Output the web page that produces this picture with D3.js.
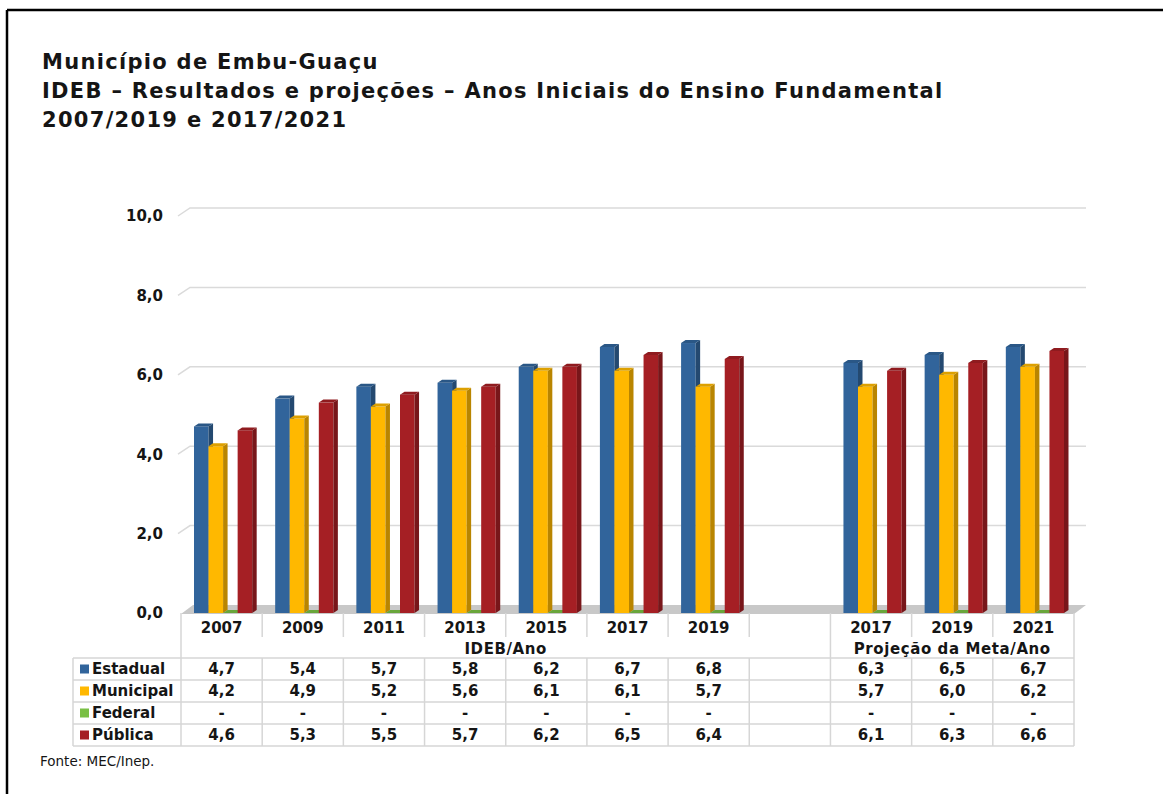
<!DOCTYPE html>
<html>
<head>
<meta charset="utf-8">
<title>IDEB Embu-Guaçu</title>
<script src="https://cdn.jsdelivr.net/npm/d3@7"></script>
<style>
body { margin: 0; background: #fff; }
svg text { font-family: "DejaVu Sans", Verdana, sans-serif; fill: #151515; }
.b { font-weight: bold; }
.grid { stroke: #dadada; stroke-width: 1.5; fill: none; }
.tbl { stroke: #d6d6d6; stroke-width: 1.5; }
</style>
</head>
<body>
<svg id="chart" width="1163" height="794"></svg>
<script>
// dados (IDEB 2007-2019 e projeções 2017-2021)
var idebAnos = ["2007", "2009", "2011", "2013", "2015", "2017", "2019"];
var metaAnos = ["2017", "2019", "2021"];
var series = ["Estadual", "Municipal", "Federal", "Pública"];
var estadual  = [4.7, 5.4, 5.7, 5.8, 6.2, 6.7, 6.8, 6.3, 6.5, 6.7];
var municipal = [4.2, 4.9, 5.2, 5.6, 6.1, 6.1, 5.7, 5.7, 6.0, 6.2];
var federal   = [null, null, null, null, null, null, null, null, null, null];
var publica   = [4.6, 5.3, 5.5, 5.7, 6.2, 6.5, 6.4, 6.1, 6.3, 6.6];
var yTicks = [0, 2, 4, 6, 8, 10];
var titulo = ["Município de Embu-Guaçu",
  "IDEB – Resultados e projeções – Anos Iniciais do Ensino Fundamental",
  "2007/2019 e 2017/2021"];
var grupos = ["IDEB/Ano", "Projeção da Meta/Ano"];
var fonte = "Fonte: MEC/Inep.";

var cores = {"Estadual": "#31649b", "Municipal": "#ffb800", "Federal": "#79bf44", "Pública": "#a51f24"};
var valores = {"Estadual": estadual, "Municipal": municipal, "Federal": federal, "Pública": publica};

var svg = d3.select("#chart");
var fmt = function(v) { return v == null ? "-" : d3.format(".1f")(v).replace(".", ","); };

// colunas: anos IDEB, uma coluna vazia, anos de meta
var cols = idebAnos.map(function(a) { return "i" + a; })
  .concat(["gap"])
  .concat(metaAnos.map(function(a) { return "m" + a; }));
var colOf = function(i) { return cols[i < idebAnos.length ? i : i + 1]; };
var labelOf = function(c) { return c === "gap" ? "" : c.slice(1); };

var x = d3.scaleBand().domain(cols).range([181, 1074]);
var y = d3.scaleLinear().domain([0, 10]).range([613, 216]);
var sub = d3.scaleBand().domain(series).range([13, x.bandwidth() - 10]);
var pdx = 12, pdy = -8;   // profundidade do plano de fundo
var bdx = 4.5, bdy = -3;  // profundidade das barras

// moldura
svg.append("line").attr("x1", 7).attr("x2", 1163).attr("y1", 10).attr("y2", 10)
  .attr("stroke", "#000").attr("stroke-width", 2.5);
svg.append("line").attr("x1", 7).attr("x2", 7).attr("y1", 10).attr("y2", 794)
  .attr("stroke", "#000").attr("stroke-width", 2.5);

// título
svg.append("g").selectAll("text").data(titulo).join("text")
  .attr("class", "b")
  .attr("x", 42).attr("y", function(d, i) { return 69 + i * 29; })
  .attr("font-size", 21).attr("letter-spacing", 1.3)
  .text(function(d) { return d; });

// grade
var x0 = x.range()[0], x1 = x.range()[1];
svg.append("g").selectAll("path").data(yTicks.filter(function(t) { return t > 0; })).join("path")
  .attr("class", "grid")
  .attr("d", function(t) {
    return "M" + (x0 - 3) + "," + y(t) + "L" + (x0 + pdx - 3) + "," + (y(t) + pdy) +
      "L" + (x1 + pdx) + "," + (y(t) + pdy);
  });

// piso
svg.append("path")
  .attr("d", "M" + x0 + "," + (y(0) + 1) + "L" + x1 + "," + (y(0) + 1) +
    "L" + (x1 + pdx) + "," + (y(0) + pdy) + "L" + (x0 + pdx) + "," + (y(0) + pdy) + "Z")
  .attr("fill", "#c8c8c8");

// eixo y
svg.append("g").selectAll("text").data(yTicks).join("text")
  .attr("class", "b")
  .attr("x", 163).attr("y", y).attr("dy", "0.36em")
  .attr("text-anchor", "end").attr("font-size", 15)
  .text(fmt);

// barras 3D
var barras = [];
estadual.forEach(function(_, i) {
  series.forEach(function(s) {
    barras.push({col: colOf(i), serie: s, v: valores[s][i]});
  });
});
var bg = svg.append("g").selectAll("g").data(barras).join("g");
bg.each(function(d) {
  var g = d3.select(this);
  var bx = x(d.col) + sub(d.serie), w = sub.bandwidth();
  var top = y(d.v == null ? 0 : d.v), bot = y(0);
  var c = d3.color(cores[d.serie]);
  g.append("rect").attr("x", bx).attr("y", top).attr("width", w).attr("height", bot - top)
    .attr("fill", c);
  g.append("path")
    .attr("d", "M" + (bx + w) + "," + top + "L" + (bx + w + bdx) + "," + (top + bdy) +
      "L" + (bx + w + bdx) + "," + (bot + bdy) + "L" + (bx + w) + "," + bot + "Z")
    .attr("fill", c.darker(0.9));
  g.append("path")
    .attr("d", "M" + bx + "," + top + "L" + (bx + bdx) + "," + (top + bdy) +
      "L" + (bx + w + bdx) + "," + (top + bdy) + "L" + (bx + w) + "," + top + "Z")
    .attr("fill", c.darker(0.4));
});

// tabela
var tg = svg.append("g");
var rowY = d3.scaleBand().domain(series).range([658, 746]);
var bounds = cols.map(function(c) { return x(c); }).concat([x1]);
var cheias = [0, idebAnos.length + 1, cols.length];
bounds.forEach(function(b, i) {
  if (cheias.indexOf(i) >= 0) {
    tg.append("line").attr("class", "tbl").attr("x1", b).attr("x2", b).attr("y1", y(0)).attr("y2", 746);
  } else {
    tg.append("line").attr("class", "tbl").attr("x1", b).attr("x2", b).attr("y1", y(0)).attr("y2", 637);
    tg.append("line").attr("class", "tbl").attr("x1", b).attr("x2", b).attr("y1", 658).attr("y2", 746);
  }
});
rowY.domain().concat(["fim"]).forEach(function(s) {
  var yy = s === "fim" ? 746 : rowY(s);
  tg.append("line").attr("class", "tbl").attr("x1", 73).attr("x2", x1).attr("y1", yy).attr("y2", yy);
});
tg.append("line").attr("class", "tbl").attr("x1", 73).attr("x2", 73).attr("y1", 658).attr("y2", 746);

// anos
tg.selectAll("text.ano").data(cols).join("text")
  .attr("class", "ano b")
  .attr("x", function(c) { return x(c) + x.bandwidth() / 2; })
  .attr("y", 628).attr("dy", "0.36em")
  .attr("text-anchor", "middle").attr("font-size", 15)
  .text(labelOf);

// grupos
var gx = [(x0 + x(cols[idebAnos.length + 1])) / 2, (x(cols[idebAnos.length + 1]) + x1) / 2];
tg.selectAll("text.grp").data(grupos).join("text")
  .attr("class", "grp b")
  .attr("x", function(d, i) { return gx[i]; })
  .attr("y", 649).attr("dy", "0.36em")
  .attr("text-anchor", "middle").attr("font-size", 15).attr("letter-spacing", 0.6)
  .text(function(d) { return d; });

// legenda
series.forEach(function(s) {
  var cy = rowY(s) + rowY.bandwidth() / 2;
  tg.append("rect").attr("x", 80).attr("y", cy - 4.5).attr("width", 9).attr("height", 9)
    .attr("fill", cores[s]);
  tg.append("text").attr("class", "b").attr("x", 92).attr("y", cy).attr("dy", "0.36em")
    .attr("font-size", 15).text(s);
  valores[s].forEach(function(v, i) {
    var c = colOf(i);
    tg.append("text").attr("class", "b")
      .attr("x", x(c) + x.bandwidth() / 2).attr("y", cy).attr("dy", "0.36em")
      .attr("text-anchor", "middle").attr("font-size", 15)
      .text(fmt(v));
  });
});

// fonte
svg.append("text")
  .attr("x", 40).attr("y", 766)
  .attr("font-size", 13.5).attr("fill", "#2d3340")
  .text(fonte);
</script>
</body>
</html>
